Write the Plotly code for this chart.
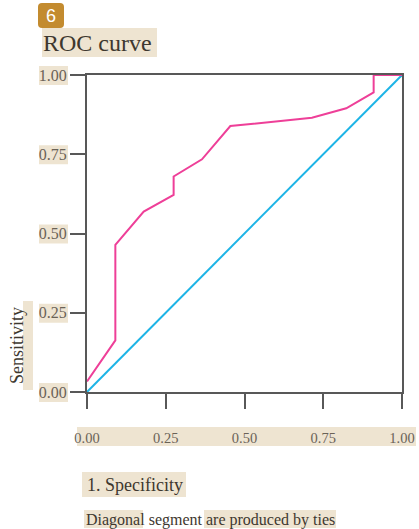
import plotly.graph_objects as go

# ---- data ----
fpr = [0.0, 0.09, 0.09, 0.18, 0.275, 0.275, 0.365, 0.455, 0.714, 0.823, 0.91, 0.91, 1.0]
tpr = [0.033, 0.163, 0.464, 0.569, 0.622, 0.68, 0.734, 0.839, 0.865, 0.895, 0.945, 1.0, 1.0]
ref_x = [0.0, 1.0]
ref_y = [0.0, 1.0]
tick_vals = [0.0, 0.25, 0.5, 0.75, 1.0]
tick_text = ["0.00", "0.25", "0.50", "0.75", "1.00"]
title_text = "ROC curve"
badge_text = "6"
y_title = "Sensitivity"
x_title = "1. Specificity"
foot_parts = ["Diagonal", "segment", "are produced by ties"]

W, H = 419, 529
L, T = 87, 75
R = W - 402
B = H - 392
PW, PH = W - L - R, H - T - B

def px(x):
    return (x - L) / PW

def py(y):
    return (H - B - y) / PH

BEIGE = "#eee4d1"
AX = "#585858"
SERIF = "Liberation Serif, Times New Roman, serif"
TICKC = "#6a6257"
TEXTC = "#3e382f"

fig = go.Figure()
fig.add_trace(go.Scatter(x=ref_x, y=ref_y, mode="lines",
                         line=dict(color="#1db4e6", width=2), hoverinfo="skip"))
fig.add_trace(go.Scatter(x=fpr, y=tpr, mode="lines",
                         line=dict(color="#ee3f98", width=2), hoverinfo="skip"))

shapes = []
def band(x0, x1, y0, y1):
    shapes.append(dict(type="rect", xref="paper", yref="paper",
                       x0=px(x0), x1=px(x1), y0=py(y1), y1=py(y0),
                       fillcolor=BEIGE, line=dict(width=0), layer="below"))

# title band
band(42, 157, 28, 57)
# x tick labels band
band(77, 416, 427, 446)
# y tick labels bands
for v in tick_vals:
    yc = 392 - v * PH
    band(39, 68, yc - 9, yc + 10)
# y title band
band(23, 33, 301, 390)
# x title band
band(82, 186, 472, 497)
# footnote bands
band(84, 143, 510, 528)
band(204, 336, 510, 528)

# badge (rounded square)
bx0, bx1, by0, by1, r = 38, 64, 3, 28, 4
pts = [
    f"M {px(bx0 + r)},{py(by0)}",
    f"L {px(bx1 - r)},{py(by0)}",
    f"Q {px(bx1)},{py(by0)} {px(bx1)},{py(by0 + r)}",
    f"L {px(bx1)},{py(by1 - r)}",
    f"Q {px(bx1)},{py(by1)} {px(bx1 - r)},{py(by1)}",
    f"L {px(bx0 + r)},{py(by1)}",
    f"Q {px(bx0)},{py(by1)} {px(bx0)},{py(by1 - r)}",
    f"L {px(bx0)},{py(by0 + r)}",
    f"Q {px(bx0)},{py(by0)} {px(bx0 + r)},{py(by0)} Z",
]
shapes.append(dict(type="path", xref="paper", yref="paper", path=" ".join(pts),
                   fillcolor="#c38b2f", line=dict(width=0), layer="below"))

annos = [
    dict(text=badge_text, x=px(51), y=py(15.5), xanchor="center", yanchor="middle",
         font=dict(family="Liberation Sans, Arial, sans-serif", size=18, color="white")),
    dict(text=title_text, x=px(41), y=py(43), xanchor="left", yanchor="middle",
         font=dict(family=SERIF, size=24, color=TEXTC)),
    dict(text=y_title, x=px(17), y=py(346), xanchor="center", yanchor="middle",
         textangle=-90, font=dict(family=SERIF, size=18, color=TEXTC)),
    dict(text=x_title, x=px(85), y=py(485), xanchor="left", yanchor="middle",
         font=dict(family=SERIF, size=18, color=TEXTC)),
    dict(text=" ".join(foot_parts), x=px(84), y=py(519.5), xanchor="left", yanchor="middle",
         font=dict(family=SERIF, size=16, color=TEXTC)),
]
for a in annos:
    a.update(xref="paper", yref="paper", showarrow=False)

axis_common = dict(range=[0, 1], tickvals=tick_vals, ticktext=tick_text,
                   showline=True, mirror=True, linecolor=AX, linewidth=2,
                   ticks="outside", ticklen=15, tickwidth=2, tickcolor=AX,
                   showgrid=False, zeroline=False, automargin=False)

fig.update_layout(
    width=W, height=H,
    margin=dict(l=L, r=R, t=T, b=B),
    paper_bgcolor="white", plot_bgcolor="white",
    showlegend=False,
    xaxis=dict(**axis_common, ticklabelstandoff=17,
               tickfont=dict(family=SERIF, size=14.5, color=TICKC)),
    yaxis=dict(**axis_common,
               tickfont=dict(family=SERIF, size=16, color=TICKC)),
    shapes=shapes, annotations=annos,
)

fig.write_html("out.html",
               config={"displayModeBar": False},
               post_script="document.body.style.margin='0';document.body.style.overflow='hidden';")
